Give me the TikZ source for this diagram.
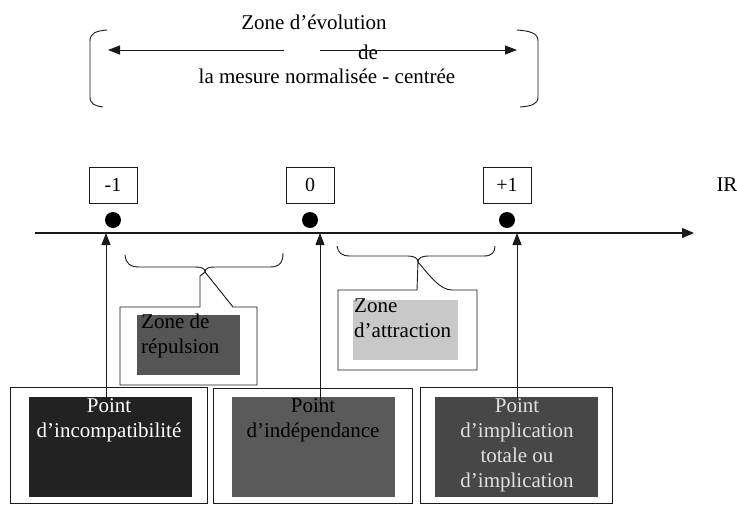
\documentclass[tikz,border=0pt]{standalone}
\usepackage{fontspec}
\setmainfont{Liberation Serif}
\usetikzlibrary{arrows.meta}
\definecolor{fillA}{HTML}{222222}
\definecolor{fillB}{HTML}{5A5A5A}
\definecolor{fillC}{HTML}{474747}
\definecolor{fillR}{HTML}{555555}
\definecolor{fillT}{HTML}{C8C8C8}
\definecolor{linec}{HTML}{1A1A1A}
\tikzset{
  txt/.style={font=\fontsize{21}{25}\selectfont, inner sep=0pt, align=center},
  valbox/.style={draw=linec, line width=0.9pt, minimum width=48pt, minimum height=36pt, inner sep=0pt, font=\fontsize{20}{25}\selectfont},
  dot/.style={circle, fill=black, minimum size=16pt, inner sep=0pt},
  outerbox/.style={draw=linec, line width=0.8pt, inner sep=0pt},
  fillbox/.style={inner sep=0pt},
  uparrow/.style={draw=linec, line width=1pt, -{Triangle[length=12pt,width=9pt]}},
  thinline/.style={draw=linec, line width=0.9pt},
}
\begin{document}
\begin{tikzpicture}[x=1pt,y=-1pt]
\useasboundingbox (0,0) rectangle (737,504);
% top title
\node[txt] (title1) at (314,22) {Zone d'évolution};
\node[txt] (title2) at (368,52) {de};
\node[txt] (title3) at (327,76) {la mesure normalisée - centrée};
\coordinate (tl) at (108,50);
\coordinate (tlg) at (284,50);
\coordinate (trg) at (320,50);
\coordinate (tr) at (517,50);
\draw[uparrow] (tlg) -- (tl);
\draw[uparrow] (trg) -- (tr);
% brackets
\draw[thinline] (107,30) .. controls (96,31) and (90,33) .. (90,41) -- (90,97) .. controls (90,104) and (95,106) .. (103,107);
\draw[thinline] (517,30) .. controls (530,31) and (538,33) .. (538,41) -- (538,97) .. controls (538,104) and (532,106) .. (520,107);
% value boxes
\node[valbox] (bm1) at (113,185) {-1};
\node[valbox] (b0) at (310,185) {0};
\node[valbox] (bp1) at (507,185) {+1};
\node[txt] (ir) at (727,185) {IR};
% dots
\node[dot] (dm1) at (113,220) {};
\node[dot] (d0) at (310,220) {};
\node[dot] (dp1) at (507,220) {};
% axis
\coordinate (ax0) at (35,233);
\coordinate (ax1) at (694,233);
\draw[draw=linec, line width=1.3pt, -{Triangle[length=12pt,width=10pt]}] (ax0) -- (ax1);
% braces
\draw[thinline] (125,255) .. controls (126,264) and (130,267) .. (140,267) -- (195,267) .. controls (201,267) and (205,268) .. (205,272) .. controls (205,268) and (209,267) .. (215,267) -- (270,267) .. controls (280,267) and (283,262) .. (283,253);
\draw[thinline] (337,246) .. controls (338,253) and (342,256) .. (350,256) -- (408,256) .. controls (414,256) and (418,258) .. (418,262) .. controls (418,258) and (422,256) .. (428,256) -- (484,256) .. controls (492,256) and (495,252) .. (495,246);
% callouts
\draw[thinline] (120,307) -- (200,307) -- (200,276) -- (205,272) -- (233,307) -- (257,307) -- (257,385) -- (120,385) -- cycle;
\draw[thinline] (338,290) -- (417,290) -- (418,262) .. controls (430,276) and (440,290) .. (452,290) -- (477,290) -- (477,370) -- (338,370) -- cycle;
\node[fillbox, fill=fillR, minimum width=103pt, minimum height=60pt] (rep) at (188.5,345) {};
\node[txt, align=left, anchor=north west] (reptxt) at (141,314) {Zone de\\répulsion};
\node[fillbox, fill=fillT, minimum width=105pt, minimum height=60pt] (att) at (405.5,330) {};
\node[txt, align=left, anchor=north west] (atttxt) at (354,299) {Zone\\d'attraction};
% bottom boxes
\node[outerbox, minimum width=197pt, minimum height=116pt] (o1) at (108.5,445) {};
\node[outerbox, minimum width=199pt, minimum height=115pt] (o2) at (312.5,445.5) {};
\node[outerbox, minimum width=192pt, minimum height=116pt] (o3) at (516,445) {};
\node[fillbox, fill=fillA, minimum width=163pt, minimum height=100pt] (f1) at (110.5,447) {};
\node[fillbox, fill=fillB, minimum width=163pt, minimum height=100pt] (f2) at (313.5,447) {};
\node[fillbox, fill=fillC, minimum width=163pt, minimum height=100pt] (f3) at (516.5,447) {};
% up arrows
\coordinate (s1) at (106,402);
\coordinate (t1) at (106,233);
\coordinate (s2) at (320,406);
\coordinate (t2) at (320,233);
\coordinate (s3) at (517,398);
\coordinate (t3) at (517,233);
\draw[uparrow] (s1) -- (t1);
\draw[uparrow] (s2) -- (t2);
\draw[uparrow] (s3) -- (t3);
% bottom texts
\node[txt, anchor=north, text=white] (p1) at (109,398) {Point\\d'incompatibilité};
\node[txt, anchor=north, text=black] (p2) at (313,398) {Point\\d'indépendance};
\node[txt, anchor=north, text=black!12] (p3) at (517,398) {Point\\d'implication\\totale ou\\d'implication};
\end{tikzpicture}
\end{document}
